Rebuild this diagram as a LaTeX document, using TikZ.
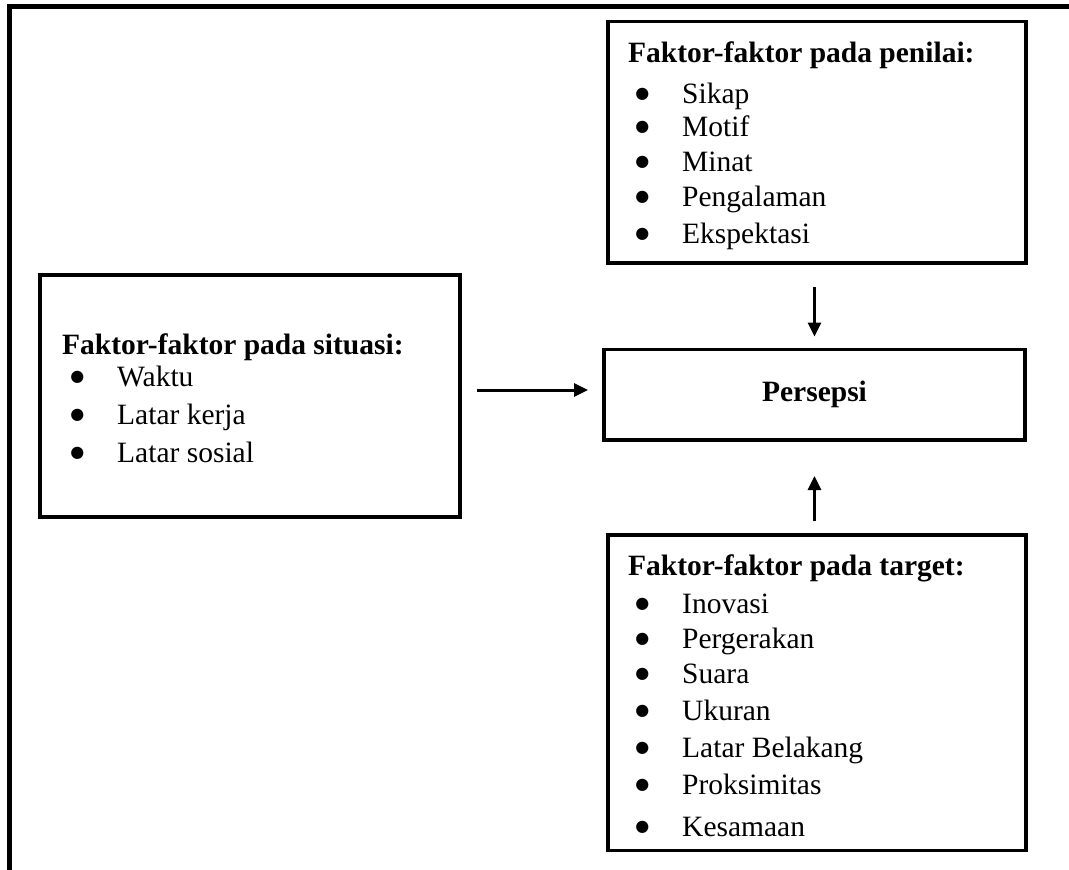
\documentclass[tikz,border=0pt]{standalone}
\usepackage{fontspec}
\setmainfont{Liberation Serif}
\newfontfamily\dotfont{DejaVu Sans}
\usepackage{tikz}
\usetikzlibrary{arrows.meta, positioning, calc}
\tikzset{faktorbox/.style={draw=black, line width=3.5pt, inner sep=0pt, outer sep=0pt}}
\tikzset{flow/.style={line width=3pt, -{Triangle[length=14pt,width=13pt]}}}
\tikzset{judul/.style={anchor=base west, inner sep=0pt, font=\fontsize{29.5}{35}\selectfont\bfseries}}
\tikzset{butir/.style={anchor=base west, inner sep=0pt}}
\newcommand{\bul}{\llap{\raisebox{5pt}{\dotfont\fontsize{16}{16}\selectfont ●}\hspace{32.8pt}}}

\begin{document}
\begin{tikzpicture}[x=1pt, y=-1pt, font=\fontsize{29.5}{35}\selectfont]
 \useasboundingbox (0,0) rectangle (1069,870);
 %Drawing outer frame
 \draw[line width=4.5pt] (9.5,870) -- (9.5,6.5) -- (1069,6.5);

 %Boxes
 \node[faktorbox, minimum width=418pt, minimum height=241.5pt] (penilai) at (817,142.25) {};
 \node[faktorbox, minimum width=421pt, minimum height=90.5pt, font=\fontsize{29.5}{35}\selectfont\bfseries] (persepsi) at (814.5,394.75) {Persepsi};
 \node[faktorbox, minimum width=420pt, minimum height=242pt] (situasi) at (250,396) {};
 \node[faktorbox, minimum width=418pt, minimum height=315.5pt] (target) at (817,692.75) {};

 %Faktor pada penilai
 \node[judul] (penilaiT) at (628,62) {Faktor-faktor pada penilai:};
 \node[butir] (penilai1) at (682,103) {\bul Sikap};
 \node[butir] (penilai2) at (682,136) {\bul Motif};
 \node[butir] (penilai3) at (682,171) {\bul Minat};
 \node[butir] (penilai4) at (682,206) {\bul Pengalaman};
 \node[butir] (penilai5) at (682,243) {\bul Ekspektasi};

 %Faktor pada situasi
 \node[judul] (situasiT) at (62,354) {Faktor-faktor pada situasi:};
 \node[butir] (situasi1) at (117,386) {\bul Waktu};
 \node[butir] (situasi2) at (117,424) {\bul Latar kerja};
 \node[butir] (situasi3) at (117,462) {\bul Latar sosial};

 %Faktor pada target
 \node[judul] (targetT) at (628,575) {Faktor-faktor pada target:};
 \node[butir] (target1) at (682,613) {\bul Inovasi};
 \node[butir] (target2) at (682,648) {\bul Pergerakan};
 \node[butir] (target3) at (682,683) {\bul Suara};
 \node[butir] (target4) at (682,720) {\bul Ukuran};
 \node[butir] (target5) at (682,757) {\bul Latar Belakang};
 \node[butir] (target6) at (682,794) {\bul Proksimitas};
 \node[butir] (target7) at (682,836) {\bul Kesamaan};

 %Arrows
 \draw[flow, shorten <=17pt, shorten >=16pt] ([yshift=6pt]situasi.east) -- ([yshift=6pt]situasi.east -| persepsi.west);
 \draw[flow, shorten <=24pt, shorten >=13pt] (penilai.south -| persepsi.north) -- (persepsi.north);
 \draw[flow, shorten <=14pt, shorten >=36pt] (target.north -| persepsi.south) -- (persepsi.south);

\end{tikzpicture}
\end{document}
